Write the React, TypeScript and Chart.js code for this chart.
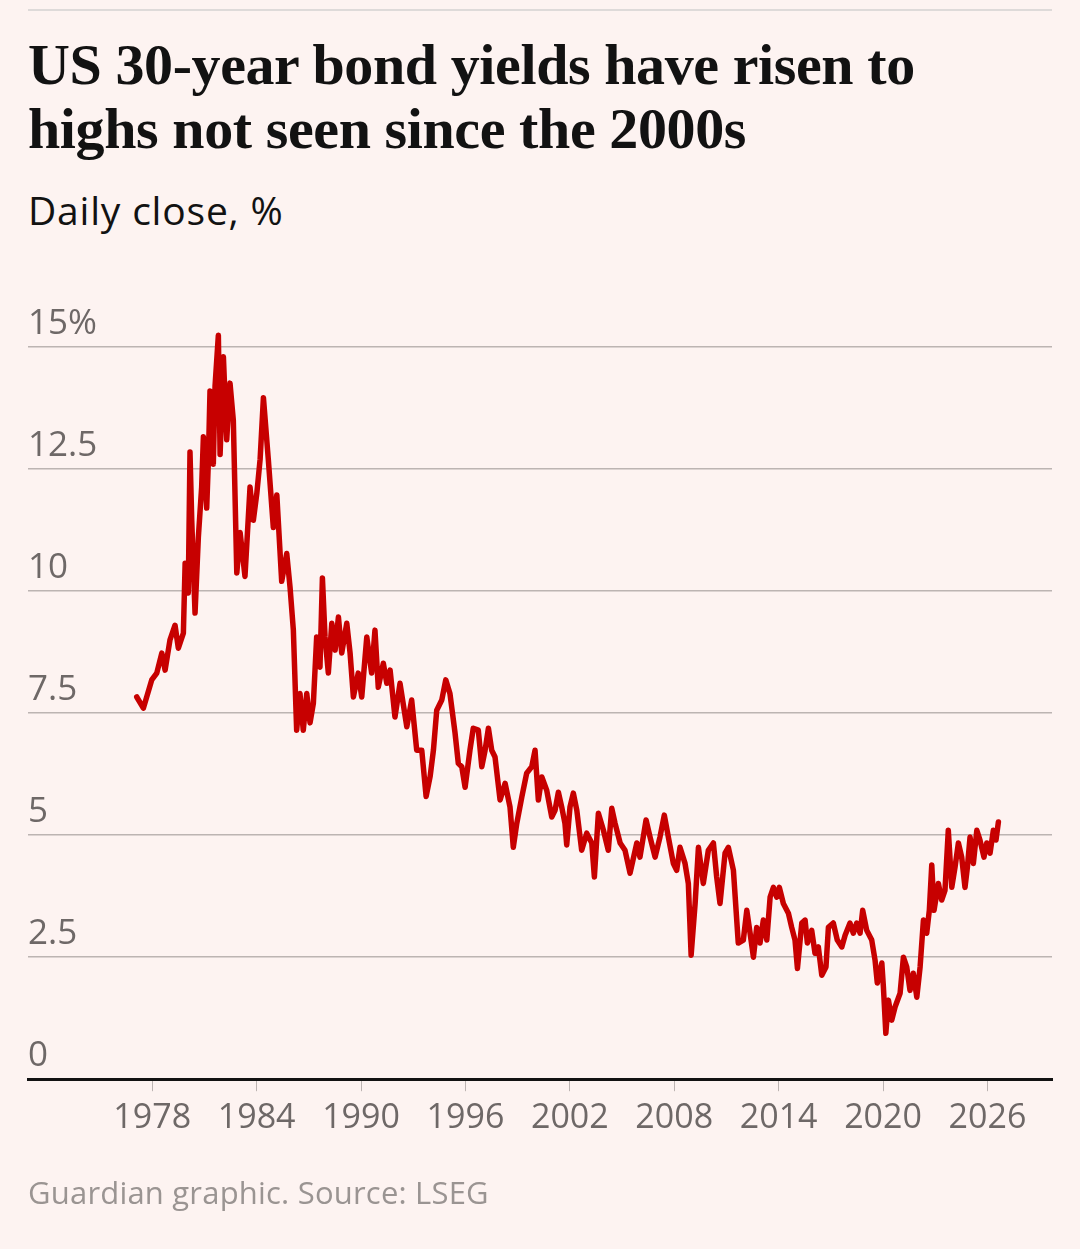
import React, { useEffect, useRef } from 'react';
import { Chart, registerables } from 'chart.js';

Chart.register(...registerables);

// Decimal-year dates of the sampled daily closes
const dates = [
  1977.11, 1977.49, 1977.97, 1978.26, 1978.55, 1978.74, 1979.02, 1979.31, 1979.5, 1979.79,
  1979.89, 1980.07, 1980.17, 1980.27, 1980.46, 1980.65, 1980.84, 1980.94, 1981.13, 1981.22,
  1981.32, 1981.51, 1981.61, 1981.8, 1981.9, 1982.09, 1982.28, 1982.47, 1982.66, 1982.86,
  1983.05, 1983.33, 1983.62, 1983.81, 1984.01, 1984.2, 1984.39, 1984.67, 1984.96, 1985.16,
  1985.44, 1985.73, 1985.92, 1986.11, 1986.3, 1986.49, 1986.68, 1986.88, 1987.07, 1987.26,
  1987.45, 1987.64, 1987.78, 1987.93, 1988.12, 1988.32, 1988.51, 1988.7, 1988.89, 1989.18,
  1989.37, 1989.56, 1989.84, 1990.04, 1990.33, 1990.61, 1990.8, 1990.99, 1991.28, 1991.48,
  1991.67, 1991.95, 1992.24, 1992.63, 1992.91, 1993.2, 1993.49, 1993.74, 1993.97, 1994.16,
  1994.35, 1994.64, 1994.87, 1995.11, 1995.4, 1995.59, 1995.79, 1995.98, 1996.26, 1996.45,
  1996.74, 1996.94, 1997.13, 1997.32, 1997.51, 1997.7, 1997.99, 1998.28, 1998.56, 1998.75,
  1998.95, 1999.24, 1999.52, 1999.81, 2000.0, 2000.19, 2000.39, 2000.67, 2000.96, 2001.15,
  2001.34, 2001.53, 2001.72, 2001.82, 2002.01, 2002.2, 2002.4, 2002.68, 2002.97, 2003.26,
  2003.41, 2003.64, 2003.93, 2004.21, 2004.41, 2004.6, 2004.89, 2005.17, 2005.46, 2005.85,
  2006.03, 2006.38, 2006.61, 2006.9, 2007.18, 2007.43, 2007.66, 2007.95, 2008.14, 2008.33,
  2008.62, 2008.81, 2008.97, 2009.2, 2009.39, 2009.67, 2009.96, 2010.25, 2010.44, 2010.63,
  2010.92, 2011.11, 2011.4, 2011.68, 2011.97, 2012.17, 2012.36, 2012.55, 2012.74, 2012.93,
  2013.12, 2013.32, 2013.51, 2013.7, 2013.89, 2014.04, 2014.27, 2014.56, 2014.75, 2014.94,
  2015.08, 2015.33, 2015.52, 2015.65, 2015.9, 2016.09, 2016.28, 2016.48, 2016.72, 2016.86,
  2017.14, 2017.37, 2017.63, 2017.82, 2018.1, 2018.29, 2018.49, 2018.68, 2018.83, 2019.06,
  2019.35, 2019.54, 2019.67, 2019.93, 2020.02, 2020.16, 2020.31, 2020.5, 2020.69, 2020.98,
  2021.17, 2021.36, 2021.55, 2021.74, 2021.94, 2022.13, 2022.32, 2022.51, 2022.66, 2022.8,
  2022.93, 2023.18, 2023.37, 2023.56, 2023.75, 2023.95, 2024.14, 2024.33, 2024.52, 2024.71,
  2024.85, 2025.0, 2025.19, 2025.39, 2025.57, 2025.8, 2025.96, 2026.15, 2026.34, 2026.49,
  2026.63,
];

// US 30-year Treasury yield, %
const yields = [
  7.83, 7.6, 8.18, 8.32, 8.73, 8.38, 9.0, 9.3, 8.83, 9.14,
  10.57, 9.96, 12.85, 11.45, 9.55, 11.1, 12.13, 13.16, 11.7, 12.6,
  14.1, 12.6, 14.2, 15.24, 12.8, 14.8, 13.1, 14.26, 13.5, 10.37,
  11.2, 10.3, 12.13, 11.45, 12.0, 12.7, 13.96, 12.7, 11.3, 11.97,
  10.2, 10.77, 10.08, 9.2, 7.15, 7.9, 7.15, 7.9, 7.3, 7.7,
  9.06, 8.44, 10.27, 9.06, 8.32, 9.34, 8.79, 9.47, 8.73, 9.34,
  8.73, 7.83, 8.32, 7.83, 9.06, 8.32, 9.2, 8.03, 8.52, 8.11,
  8.38, 7.42, 8.11, 7.22, 7.77, 6.74, 6.74, 5.79, 6.2, 6.74,
  7.56, 7.77, 8.18, 7.9, 7.1, 6.47, 6.4, 5.98, 6.74, 7.19,
  7.15, 6.4, 6.74, 7.19, 6.74, 6.6, 5.72, 6.06, 5.58, 4.75,
  5.24, 5.78, 6.27, 6.4, 6.74, 5.72, 6.19, 5.92, 5.37, 5.51,
  5.88, 5.58, 5.24, 4.8, 5.58, 5.86, 5.51, 4.69, 5.04, 4.84,
  4.14, 5.45, 5.1, 4.69, 5.55, 5.24, 4.84, 4.69, 4.22, 4.84,
  4.55, 5.31, 4.96, 4.55, 4.96, 5.41, 4.96, 4.42, 4.28, 4.75,
  4.42, 4.01, 2.54, 3.6, 4.75, 4.01, 4.69, 4.84, 4.14, 3.6,
  4.63, 4.75, 4.28, 2.79, 2.85, 3.46, 2.99, 2.5, 3.11, 2.79,
  3.26, 2.85, 3.73, 3.93, 3.73, 3.93, 3.6, 3.4, 3.11, 2.85,
  2.27, 3.2, 3.26, 2.79, 3.05, 2.58, 2.71, 2.13, 2.3, 3.11,
  3.2, 2.85, 2.71, 2.95, 3.2, 2.99, 3.2, 2.99, 3.46, 3.05,
  2.85, 2.44, 1.97, 2.38, 1.89, 0.94, 1.62, 1.21, 1.48, 1.76,
  2.5, 2.3, 1.82, 2.17, 1.68, 2.3, 3.26, 2.99, 3.46, 4.39,
  3.46, 4.01, 3.67, 3.87, 5.1, 3.93, 4.35, 4.84, 4.55, 3.93,
  4.35, 4.96, 4.42, 5.1, 4.9, 4.55, 4.84, 4.63, 5.1, 4.9,
  5.27,
];

const xTickYears = [1978, 1984, 1990, 1996, 2002, 2008, 2014, 2020, 2026];
const yTickValues = [0, 2.5, 5, 7.5, 10, 12.5, 15];
const yTickLabels = ['0', '2.5', '5', '7.5', '10', '12.5', '15%'];

const BG = '#fdf3f1';
const GRID = '#bcb4b2';
const TICK_TEXT = '#6e6867';
const SANS = "'Open Sans', 'Noto Sans', sans-serif";

export default function App() {
  const canvasRef = useRef<HTMLCanvasElement>(null);

  useEffect(() => {
    const points = dates.map((d, i) => ({ x: d, y: yields[i] }));
    const chart = new Chart(canvasRef.current as HTMLCanvasElement, {
      type: 'line',
      data: {
        datasets: [
          {
            data: points,
            borderColor: '#c70000',
            borderWidth: 5.5,
            pointRadius: 0,
            tension: 0,
            borderJoinStyle: 'round',
            borderCapStyle: 'round',
            clip: false,
          } as any,
        ],
      },
      options: {
        animation: false,
        responsive: true,
        maintainAspectRatio: false,
        layout: { padding: { left: 28, right: 28, top: 347, bottom: 103 } },
        plugins: { legend: { display: false }, tooltip: { enabled: false } },
        scales: {
          x: {
            type: 'linear',
            min: 1970.86,
            max: 2029.71,
            afterBuildTicks: (axis: any) => {
              axis.ticks = xTickYears.map((v) => ({ value: v }));
            },
            grid: {
              drawOnChartArea: false,
              drawTicks: true,
              tickLength: 12,
              color: GRID,
              lineWidth: 1,
            },
            border: { display: true, color: '#121212', width: 3 },
            ticks: {
              color: TICK_TEXT,
              font: { family: SANS, size: 34 },
              padding: 7,
              maxRotation: 0,
              autoSkip: false,
              callback: (v: any) => String(v),
            },
          },
          y: {
            type: 'linear',
            min: 0,
            max: 15,
            afterBuildTicks: (axis: any) => {
              axis.ticks = yTickValues.map((v) => ({ value: v }));
            },
            grid: {
              color: (ctx: any) => (ctx.tick && ctx.tick.value === 0 ? 'rgba(0,0,0,0)' : GRID),
              lineWidth: 1.5,
              drawTicks: false,
            },
            border: { display: false },
            ticks: {
              mirror: true,
              padding: 0,
              labelOffset: -23,
              color: TICK_TEXT,
              font: { family: SANS, size: 35 },
              callback: (v: any) => {
                const i = yTickValues.indexOf(Number(v));
                return i >= 0 ? yTickLabels[i] : '';
              },
            },
          },
        },
      } as any,
    });
    return () => chart.destroy();
  }, []);

  return (
    <div
      style={{
        position: 'absolute',
        left: 0,
        top: 0,
        width: 1080,
        height: 1249,
        background: BG,
        overflow: 'hidden',
      }}
    >
      <div
        style={{
          position: 'absolute',
          left: 28,
          top: 9,
          width: 1024,
          height: 2,
          background: '#dedad9',
        }}
      />
      <div
        style={{
          position: 'absolute',
          left: 28,
          top: 33,
          fontFamily: "'Liberation Serif', serif",
          fontWeight: 700,
          fontSize: 58,
          lineHeight: '64px',
          color: '#121212',
          letterSpacing: '-0.4px',
          whiteSpace: 'nowrap',
        }}
      >
        US 30-year bond yields have risen to
        <br />
        highs not seen since the 2000s
      </div>
      <div
        style={{
          position: 'absolute',
          left: 28,
          top: 185,
          fontFamily: SANS,
          fontSize: 39,
          lineHeight: '50px',
          color: '#121212',
          letterSpacing: '0.8px',
          whiteSpace: 'nowrap',
        }}
      >
        Daily close, %
      </div>
      <div style={{ position: 'absolute', left: 0, top: 0, width: 1080, height: 1249 }}>
        <canvas ref={canvasRef} />
      </div>
      <div
        style={{
          position: 'absolute',
          left: 28,
          top: 1170,
          fontFamily: SANS,
          fontSize: 31,
          lineHeight: '44px',
          color: '#9a9492',
          letterSpacing: '0.2px',
          whiteSpace: 'nowrap',
        }}
      >
        Guardian graphic. Source: LSEG
      </div>
    </div>
  );
}
